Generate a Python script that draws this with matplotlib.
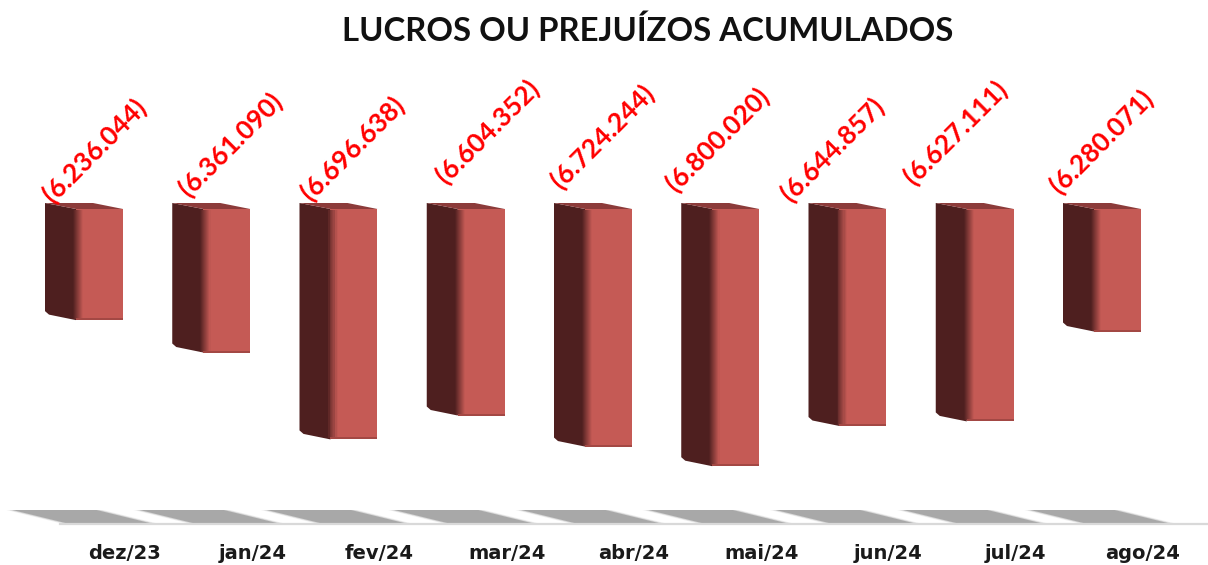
import matplotlib
matplotlib.use("Agg")
import matplotlib.pyplot as plt
from matplotlib.colors import to_rgb
import numpy as np

months = ["dez/23", "jan/24", "fev/24", "mar/24", "abr/24", "mai/24", "jun/24", "jul/24", "ago/24"]
losses = [6236044, 6361090, 6696638, 6604352, 6724244, 6800020, 6644857, 6627111, 6280071]
# Where the labels sit, in pixels from the top of the front face
label_dx = [-5, 4, -1, 6, -6, -18, -30, -35, -16]
label_dy = [58, 64, 61, 77, 72, 69, 59, 76, 67]

W, H = 1208, 565
PX_PER_UNIT = 0.000259   # vertical scale of the chart
BASE = 5807000           # the axis does not start at zero
X_STEP = 127.25          # pixels between bars
AX_LEFT, AX_RIGHT, AX_BOTTOM = 60, 1207, 524
TOP_PX = 209
FIRST_PX = 99.5

SIDE = "#4e1f1f"
FRONT = "#c55a55"
ROOF = "#8c3b3a"
SHADOW = "#a8a8a8"

fig = plt.figure(figsize=(W / 100, H / 100), dpi=100)
ax = fig.add_axes([AX_LEFT / W, 1 - AX_BOTTOM / H, (AX_RIGHT - AX_LEFT) / W, AX_BOTTOM / H])
ax.set_xlim((AX_LEFT - FIRST_PX) / X_STEP, (AX_RIGHT - FIRST_PX) / X_STEP)
ax.set_ylim(BASE + (AX_BOTTOM - TOP_PX) / PX_PER_UNIT, BASE - TOP_PX / PX_PER_UNIT)

xs = np.arange(len(months))
vals = np.array(losses)
px_x = 1 / X_STEP
px_y = 1 / PX_PER_UNIT
front_w = 47 * px_x
side_w = 31 * px_x
rise = 6 * px_y

# floor shadows under each bar, with a pale halo for the blurred edge
floor = BASE + (AX_BOTTOM - 1 - TOP_PX) * px_y
for x in xs:
    for grow, col, z in [(6, "#eeeeee", 1), (3, "#d4d4d4", 1.1), (0, SHADOW, 1.2)]:
        ax.fill([x + (-87 - grow) * px_x, x + (-3 + grow) * px_x, x + (50 + grow) * px_x, x + (-34 - grow) * px_x],
                [floor - 13 * px_y, floor - 13 * px_y, floor, floor],
                color=col, lw=0, clip_on=False, zorder=z)

for x, v in zip(xs, vals):
    left = x - front_w / 2
    # side face
    ax.fill([left - side_w, left, left, left - side_w + 4 * px_x, left - side_w],
            [BASE - rise, BASE, v, v - 5.5 * px_y, v - 9 * px_y],
            color=SIDE, lw=0, clip_on=False, zorder=2)
    # roof
    ax.fill([left - side_w, left + 17 * px_x, left + front_w, left],
            [BASE - rise, BASE - rise, BASE, BASE],
            color=ROOF, lw=0, clip_on=False, zorder=2)

# front faces
ax.bar(xs, vals - BASE, bottom=BASE, width=front_w, color=FRONT, lw=0, zorder=3)

# soft edge between side and front
c0, c1 = np.array(to_rgb(SIDE)), np.array(to_rgb(FRONT))
for k in range(10):
    c = c0 + (c1 - c0) * (k + 0.5) / 10
    ax.bar(xs - front_w / 2 + (k - 3) * px_x, vals - BASE - 2 * px_y, bottom=BASE + 1 * px_y,
           width=1.3 * px_x, align="edge", color=c, lw=0, zorder=4)

# darker lip along the bottom edge
ax.bar(xs, 2 * px_y * np.ones(len(xs)), bottom=vals - 2 * px_y, width=front_w,
       color="#a34844", lw=0, zorder=5)

for x, v, dx, dy in zip(xs, vals, label_dx, label_dy):
    txt = "(" + f"{v:,}".replace(",", ".") + ")"
    ax.annotate(txt, (x, BASE), xytext=(dx, dy), textcoords="offset pixels",
                rotation=45, ha="center", va="center", rotation_mode="anchor",
                color="#ff0000", fontsize=19, family="Lato", fontweight="bold",
                annotation_clip=False, zorder=6)

ax.set_xticks(xs + 25.5 * px_x)
ax.set_xticklabels(months, fontsize=14, fontweight="bold", color="#1a1a1a")
ax.tick_params(axis="x", length=0, pad=14.5)
ax.set_yticks([])
for s in ["top", "left", "right"]:
    ax.spines[s].set_visible(False)
ax.spines["bottom"].set_color("#d9d9d9")
ax.spines["bottom"].set_linewidth(1.6)
ax.patch.set_visible(False)

fig.text(648 / W, 1 - 30.5 / H, "LUCROS OU PREJUÍZOS ACUMULADOS", ha="center", va="center",
         fontsize=23.7, family="Lato", fontweight="bold", color="#111111")

fig.savefig("out.png", dpi=100)
